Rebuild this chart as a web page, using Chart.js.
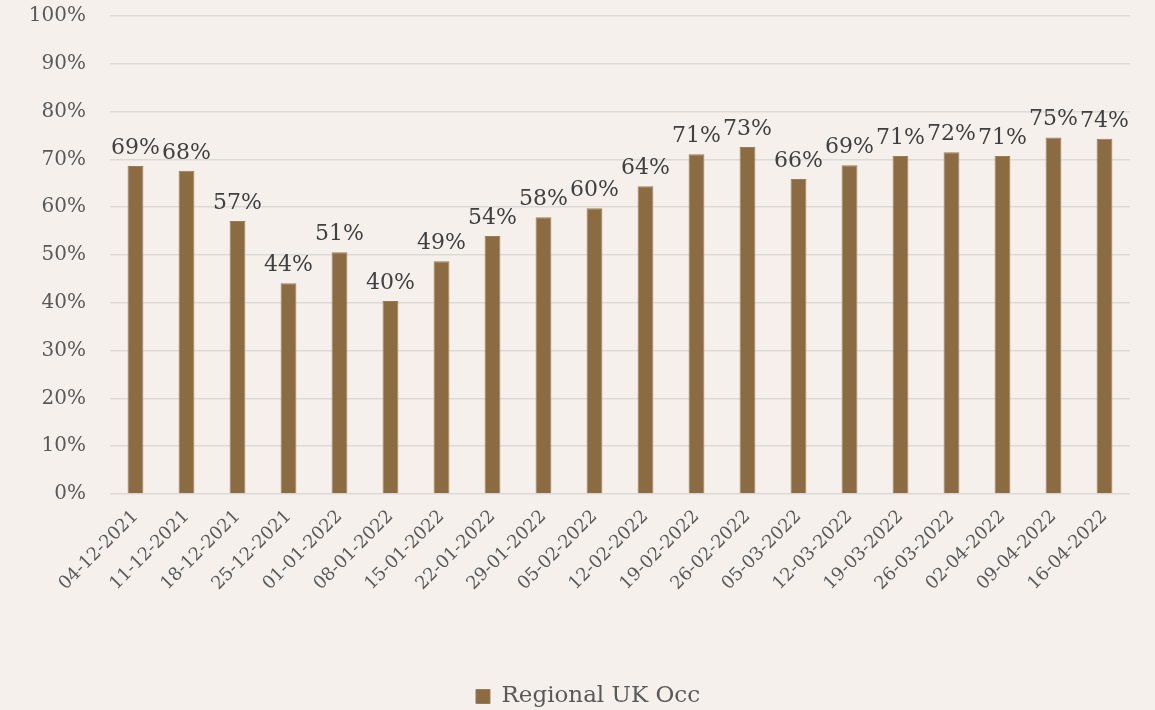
<!DOCTYPE html>
<html>
<head>
<meta charset="utf-8">
<script src="https://cdn.jsdelivr.net/npm/chart.js"></script>
<style>
  html, body { margin: 0; padding: 0; background: #f5f0ec; }
  #wrap { width: 1155px; height: 710px; }
</style>
</head>
<body>
<div id="wrap"><canvas id="occChart"></canvas></div>
<script>
    const weeks = ['04-12-2021', '11-12-2021', '18-12-2021', '25-12-2021', '01-01-2022', '08-01-2022',
        '15-01-2022', '22-01-2022', '29-01-2022', '05-02-2022', '12-02-2022', '19-02-2022', '26-02-2022',
        '05-03-2022', '12-03-2022', '19-03-2022', '26-03-2022', '02-04-2022', '09-04-2022', '16-04-2022'];
    const occupancy = [68.6, 67.6, 57.1, 44.1, 50.6, 40.4, 48.7, 54.0, 57.9, 59.8, 64.4, 71.1, 72.6,
        65.9, 68.8, 70.7, 71.5, 70.7, 74.6, 74.3];
    const yTicks = [0, 10, 20, 30, 40, 50, 60, 70, 80, 90, 100];

    const serif = "'DejaVu Serif', 'Liberation Serif', serif";
    const textColor = '#595959';

    // value labels above each bar
    const barLabels = {
        id: 'barLabels',
        afterDatasetsDraw(chart) {
            const ctx = chart.ctx;
            const meta = chart.getDatasetMeta(0);
            ctx.save();
            ctx.font = '22px ' + serif;
            ctx.fillStyle = '#404040';
            ctx.textAlign = 'center';
            ctx.textBaseline = 'bottom';
            meta.data.forEach((bar, i) => {
                ctx.fillText(Math.round(occupancy[i]) + '%', bar.x, bar.y - 7);
            });
            ctx.restore();
        }
    };

    // let the y tick labels use the space left of the axis box (legend is centred with left padding)
    const widenYAxis = {
        id: 'widenYAxis',
        afterLayout(chart) {
            chart.scales.y.left = 0;
        }
    };

    new Chart(document.getElementById('occChart'), {
        type: 'bar',
        data: {
            labels: weeks,
            datasets: [{
                label: 'Regional UK Occ',
                data: occupancy,
                backgroundColor: '#8b6b42',
                borderColor: '#9a7c55',
                borderWidth: 1,
                barPercentage: 0.62,
                categoryPercentage: 0.5
            }]
        },
        plugins: [barLabels, widenYAxis],
        options: {
            responsive: true,
            maintainAspectRatio: false,
            animation: false,
            layout: { autoPadding: false, padding: { top: 16, right: 25, left: 46, bottom: -8 } },
            plugins: {
                legend: {
                    position: 'bottom',
                    labels: {
                        color: textColor,
                        font: { family: serif, size: 23 },
                        boxWidth: 14,
                        boxHeight: 14,
                        padding: 0
                    }
                },
                tooltip: { enabled: false }
            },
            scales: {
                y: {
                    min: 0,
                    max: 100,
                    afterBuildTicks: (axis) => { axis.ticks = yTicks.map(v => ({ value: v })); },
                    afterFit: (axis) => {
                        axis.width = 64;
                        axis.paddingTop = 0;
                        axis.paddingBottom = 0;
                    },
                    border: { display: false },
                    grid: { color: '#dcdad7', lineWidth: 1.5, drawTicks: false },
                    ticks: {
                        color: textColor,
                        padding: 24,
                        font: { family: serif, size: 20 },
                        callback: (v) => v + '%'
                    }
                },
                x: {
                    afterFit: (axis) => { axis.height = 191; },
                    border: { display: false },
                    grid: { display: false },
                    ticks: {
                        color: textColor,
                        maxRotation: 45,
                        minRotation: 45,
                        padding: 4,
                        font: { family: serif, size: 18 }
                    }
                }
            }
        }
    });
</script>
</body>
</html>
